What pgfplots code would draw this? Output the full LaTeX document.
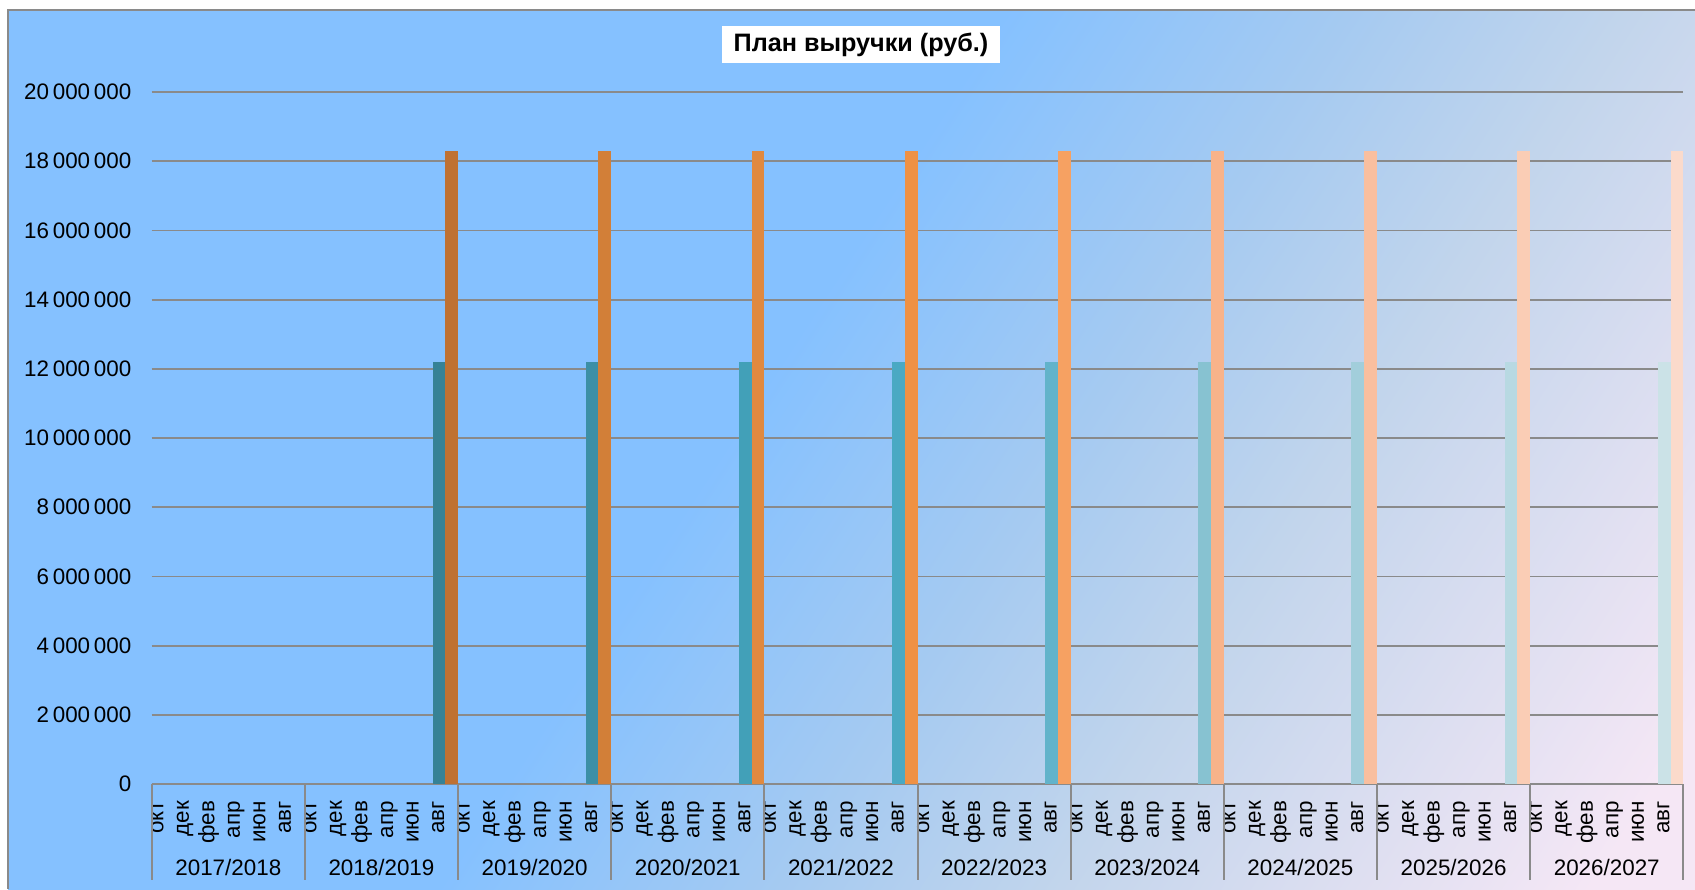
\documentclass[border=0pt]{standalone}
\usepackage{fontspec}
\setmainfont{Liberation Sans}
\usepackage{pgfplots}
\pgfplotsset{compat=1.18}

\definecolor{bgA}{HTML}{85C1FF}
\definecolor{bgB}{HTML}{A5CAF1}
\definecolor{bgC}{HTML}{C2D5EC}
\definecolor{bgD}{HTML}{F5E7F5}
\definecolor{gridc}{HTML}{8A8A8A}

\definecolor{T1}{HTML}{368296}\definecolor{O1}{HTML}{BF7132}
\definecolor{T2}{HTML}{3C8FA6}\definecolor{O2}{HTML}{D27F38}
\definecolor{T3}{HTML}{42A0B8}\definecolor{O3}{HTML}{E0893F}
\definecolor{T4}{HTML}{4AA9C3}\definecolor{O4}{HTML}{EF9144}
\definecolor{T5}{HTML}{62B3CA}\definecolor{O5}{HTML}{F6A162}
\definecolor{T6}{HTML}{87C2D1}\definecolor{O6}{HTML}{F8B38A}
\definecolor{T7}{HTML}{A2CEDB}\definecolor{O7}{HTML}{F9BF9F}
\definecolor{T8}{HTML}{B8D9E2}\definecolor{O8}{HTML}{FACDB5}
\definecolor{T9}{HTML}{CBE2E7}\definecolor{O9}{HTML}{FBDACB}

\pgfdeclarehorizontalshading{bgshade}{100bp}{color(0bp)=(bgA); color(46bp)=(bgA); color(56.6bp)=(bgB); color(65.2bp)=(bgC); color(81.6bp)=(bgD); color(100bp)=(bgD)}

\begin{document}
\begin{tikzpicture}[x=0.5bp,y=-0.5bp]
\useasboundingbox (0,0) rectangle (1695,889);
\fill[white] (0,0) rectangle (1695,889);
\shade[shading=bgshade, shading angle=-33] (8,10) rectangle (1695,889);
\draw[gridc, line width=1bp] (8,889) -- (8,10) -- (1695,10);
\begin{axis}[
  at={(75.85bp,-392bp)}, anchor=south west,
  width=765.8bp, height=346bp, scale only axis,
  xmin=0, xmax=120, ymin=0, ymax=20000000,
  clip=false,
  axis line style={draw=none},
  major tick length=0pt,
  ymajorgrids,
  grid style={gridc, line width=0.9bp},
  ytick={0,2000000,...,20000000},
  scaled y ticks=false,
  /pgf/number format/.cd, fixed, precision=0, 1000 sep={\,}, assume math mode=true,
  /pgfplots/.cd,
  yticklabel style={anchor=east, inner sep=0pt, font=\fontsize{11.2bp}{13bp}\selectfont},
  yticklabel shift=10bp,
  xtick={0.5,2.5,...,118.5},
  xticklabels={окт,дек,фев,апр,июн,авг,окт,дек,фев,апр,июн,авг,окт,дек,фев,апр,июн,авг,окт,дек,фев,апр,июн,авг,окт,дек,фев,апр,июн,авг,окт,дек,фев,апр,июн,авг,окт,дек,фев,апр,июн,авг,окт,дек,фев,апр,июн,авг,окт,дек,фев,апр,июн,авг,окт,дек,фев,апр,июн,авг},
  xticklabel style={rotate=90, anchor=east, inner ysep=0pt, inner xsep=8.5bp, outer sep=0pt, text height=0.52em, text depth=0pt, font=\fontsize{11.2bp}{13bp}\selectfont},
]
\addplot[ybar, bar width=1, bar shift=0pt, fill=T1, draw=none] coordinates {(22.5,12200000)};
\addplot[ybar, bar width=1, bar shift=0pt, fill=O1, draw=none] coordinates {(23.5,18300000)};
\addplot[ybar, bar width=1, bar shift=0pt, fill=T2, draw=none] coordinates {(34.5,12200000)};
\addplot[ybar, bar width=1, bar shift=0pt, fill=O2, draw=none] coordinates {(35.5,18300000)};
\addplot[ybar, bar width=1, bar shift=0pt, fill=T3, draw=none] coordinates {(46.5,12200000)};
\addplot[ybar, bar width=1, bar shift=0pt, fill=O3, draw=none] coordinates {(47.5,18300000)};
\addplot[ybar, bar width=1, bar shift=0pt, fill=T4, draw=none] coordinates {(58.5,12200000)};
\addplot[ybar, bar width=1, bar shift=0pt, fill=O4, draw=none] coordinates {(59.5,18300000)};
\addplot[ybar, bar width=1, bar shift=0pt, fill=T5, draw=none] coordinates {(70.5,12200000)};
\addplot[ybar, bar width=1, bar shift=0pt, fill=O5, draw=none] coordinates {(71.5,18300000)};
\addplot[ybar, bar width=1, bar shift=0pt, fill=T6, draw=none] coordinates {(82.5,12200000)};
\addplot[ybar, bar width=1, bar shift=0pt, fill=O6, draw=none] coordinates {(83.5,18300000)};
\addplot[ybar, bar width=1, bar shift=0pt, fill=T7, draw=none] coordinates {(94.5,12200000)};
\addplot[ybar, bar width=1, bar shift=0pt, fill=O7, draw=none] coordinates {(95.5,18300000)};
\addplot[ybar, bar width=1, bar shift=0pt, fill=T8, draw=none] coordinates {(106.5,12200000)};
\addplot[ybar, bar width=1, bar shift=0pt, fill=O8, draw=none] coordinates {(107.5,18300000)};
\addplot[ybar, bar width=1, bar shift=0pt, fill=T9, draw=none] coordinates {(118.5,12200000)};
\addplot[ybar, bar width=1, bar shift=0pt, fill=O9, draw=none] coordinates {(119.5,18300000)};
\foreach \g in {0,...,10}{
  \edef\tmp{\noexpand\draw[gridc, line width=1bp] (axis cs:{12*\g},0) -- ++(0,-48bp);}\tmp
}
\foreach \g/\lab in {0/2017\slash 2018,1/2018\slash 2019,2/2019\slash 2020,3/2020\slash 2021,4/2021\slash 2022,5/2022\slash 2023,6/2023\slash 2024,7/2024\slash 2025,8/2025\slash 2026,9/2026\slash 2027}{
  \edef\tmp{\noexpand\node[anchor=base, inner sep=0pt, font=\noexpand\fontsize{11.2bp}{13bp}\noexpand\selectfont] at (axis cs:{12*\g+6},0) [yshift=-45.5bp] {\unexpanded\expandafter{\lab}};}\tmp
}
\end{axis}
\node[fill=white, minimum width=139bp, minimum height=18.5bp, inner sep=0pt, font=\bfseries\fontsize{12.6bp}{15bp}\selectfont] at (861,44.5) {План выручки (руб.)};
\end{tikzpicture}
\end{document}
